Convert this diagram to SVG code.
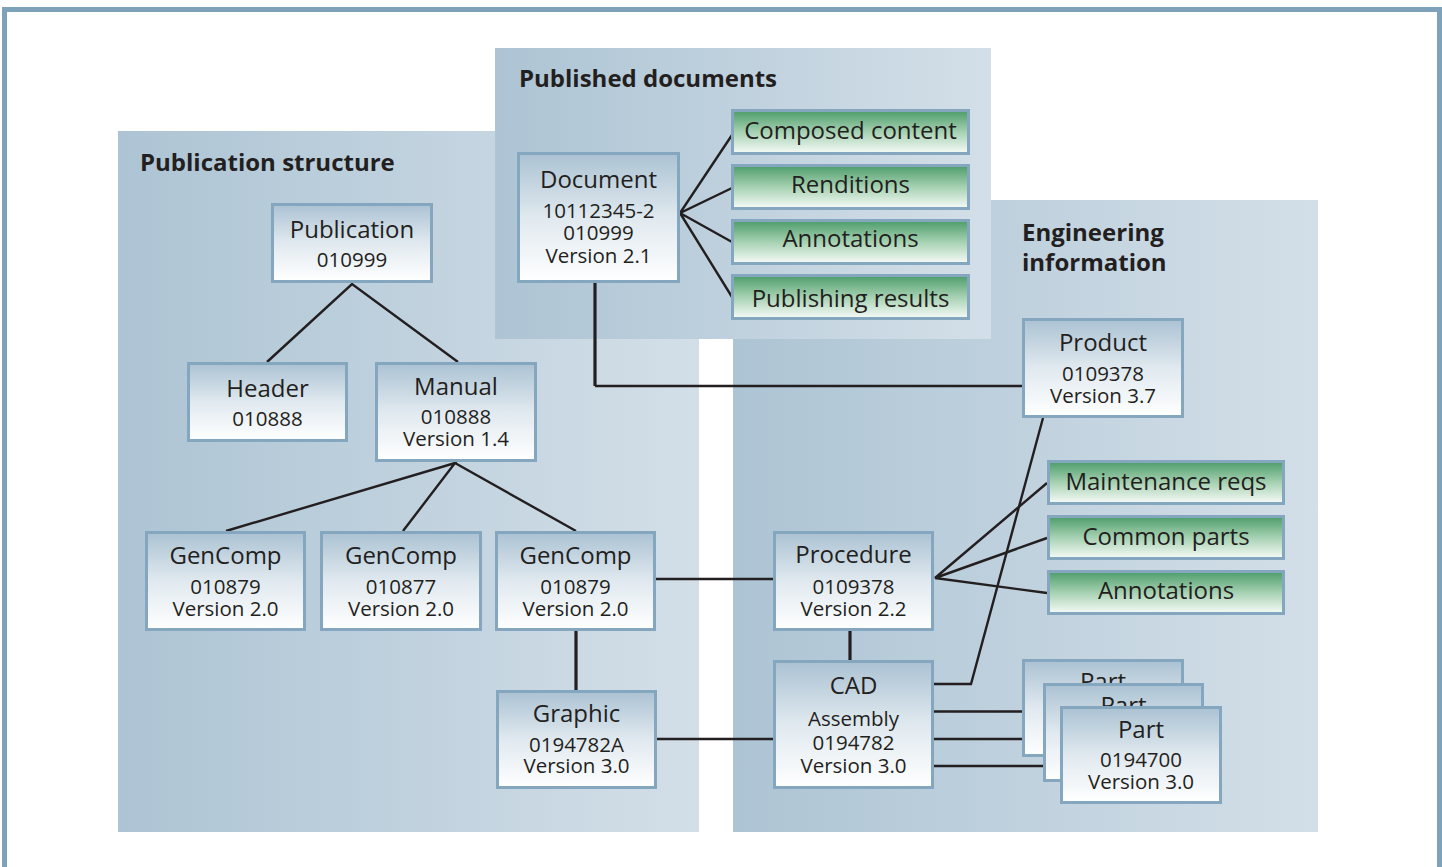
<svg xmlns="http://www.w3.org/2000/svg" width="1442" height="867" viewBox="0 0 1442 867">
<defs>
<linearGradient id="panel" x1="0" y1="0" x2="1" y2="0">
<stop offset="0" stop-color="#adc4d4"/>
<stop offset="1" stop-color="#d3dfe8"/>
</linearGradient>
<linearGradient id="node" x1="0" y1="0" x2="0" y2="1">
<stop offset="0" stop-color="#abc2d3"/>
<stop offset="0.5" stop-color="#e0e9ef"/>
<stop offset="1" stop-color="#ffffff"/>
</linearGradient>
<linearGradient id="green" x1="0" y1="0" x2="0" y2="1">
<stop offset="0" stop-color="#4c9c69"/>
<stop offset="0.5" stop-color="#a6d1b2"/>
<stop offset="1" stop-color="#f7fbf8"/>
</linearGradient>
<style>
.box{fill:url(#node);stroke:#84a6bf;stroke-width:3}
.gbox{fill:url(#green);stroke:#84a6bf;stroke-width:3}
.panel{fill:url(#panel)}
.t{font-family:"Open Sans","Noto Sans",sans-serif;font-size:24px;fill:#231f20;text-anchor:middle}
.s{font-family:"Open Sans","Noto Sans",sans-serif;font-size:20.5px;fill:#231f20;text-anchor:middle}
.h{font-family:"Open Sans","Noto Sans",sans-serif;font-size:24px;font-weight:bold;fill:#231f20}
.c{fill:none;stroke:#231f20;stroke-width:2.4}
.ct{fill:none;stroke:#231f20;stroke-width:3.2}
</style>
</defs>
<rect x="0" y="0" width="1442" height="867" fill="#ffffff"/>
<rect x="4.5" y="9.5" width="1435" height="880" fill="none" stroke="#7fa2bb" stroke-width="5"/>

<g id="panel-publication-structure">
<rect class="panel" x="118" y="131" width="581" height="701"/>
<text class="h" x="140" y="171">Publication structure</text>
</g>
<g id="panel-engineering-information">
<rect class="panel" x="733" y="200" width="585" height="632"/>
<text class="h" x="1022" y="241">Engineering</text>
<text class="h" x="1022" y="271">information</text>
</g>
<g id="panel-published-documents">
<rect class="panel" x="495" y="48" width="496" height="291"/>
<text class="h" x="519" y="87">Published documents</text>
</g>

<g id="connectors">
<path class="c" d="M267,362 L352,284 L458,362"/>
<path class="c" d="M226,531 L455,463 L403,531 M455,463 L576,531"/>
<path class="ct" d="M576,631 V690"/>
<path class="c" d="M656,579 H773"/>
<path class="c" d="M657,739 H773"/>
<path class="ct" d="M850,631 V660"/>
<path class="ct" d="M595,283 V386"/>
<path class="c" d="M595,386 H1022"/>
<path class="c" d="M732,135 L680,213 L732,188 M680,213 L732,242 M680,213 L732,297"/>
<path class="c" d="M1047,483 L935,578 L1047,538 M935,578 L1047,593"/>
<path class="c" d="M934,684 H971 L1043,418"/>
<path class="c" d="M934,711.5 H1043 M934,739 H1043 M934,766 H1061"/>
</g>

<g id="node-publication">
<rect class="box" x="272.5" y="204.5" width="159" height="77"/>
<text class="t" x="352" y="238">Publication</text>
<text class="s" x="352" y="267">010999</text>
</g>
<g id="node-header">
<rect class="box" x="188.5" y="363.5" width="158" height="77"/>
<text class="t" x="267.5" y="397">Header</text>
<text class="s" x="267.5" y="426">010888</text>
</g>
<g id="node-manual">
<rect class="box" x="376.5" y="363.5" width="159" height="97"/>
<text class="t" x="456" y="395">Manual</text>
<text class="s" x="456" y="424">010888</text>
<text class="s" x="456" y="446">Version 1.4</text>
</g>
<g id="node-gencomp1">
<rect class="box" x="146.5" y="532.5" width="158" height="97"/>
<text class="t" x="225.5" y="564">GenComp</text>
<text class="s" x="225.5" y="594">010879</text>
<text class="s" x="225.5" y="616">Version 2.0</text>
</g>
<g id="node-gencomp2">
<rect class="box" x="321.5" y="532.5" width="159" height="97"/>
<text class="t" x="401" y="564">GenComp</text>
<text class="s" x="401" y="594">010877</text>
<text class="s" x="401" y="616">Version 2.0</text>
</g>
<g id="node-gencomp3">
<rect class="box" x="496.5" y="532.5" width="158" height="97"/>
<text class="t" x="575.5" y="564">GenComp</text>
<text class="s" x="575.5" y="594">010879</text>
<text class="s" x="575.5" y="616">Version 2.0</text>
</g>
<g id="node-graphic">
<rect class="box" x="497.5" y="691.5" width="158" height="96"/>
<text class="t" x="576.5" y="722">Graphic</text>
<text class="s" x="576.5" y="752">0194782A</text>
<text class="s" x="576.5" y="773">Version 3.0</text>
</g>
<g id="node-document">
<rect class="box" x="518.5" y="153.5" width="160" height="128"/>
<text class="t" x="598.5" y="188">Document</text>
<text class="s" x="598.5" y="218">10112345-2</text>
<text class="s" x="598.5" y="240">010999</text>
<text class="s" x="598.5" y="263">Version 2.1</text>
</g>
<g id="node-composed-content">
<rect class="gbox" x="732.5" y="110.5" width="236" height="43"/>
<text class="t" x="850.5" y="139">Composed content</text>
</g>
<g id="node-renditions">
<rect class="gbox" x="732.5" y="165.5" width="236" height="43"/>
<text class="t" x="850.5" y="193">Renditions</text>
</g>
<g id="node-annotations-doc">
<rect class="gbox" x="732.5" y="220.5" width="236" height="43"/>
<text class="t" x="850.5" y="247">Annotations</text>
</g>
<g id="node-publishing-results">
<rect class="gbox" x="732.5" y="275.5" width="236" height="43"/>
<text class="t" x="850.5" y="307">Publishing results</text>
</g>
<g id="node-product">
<rect class="box" x="1023.5" y="319.5" width="159" height="97"/>
<text class="t" x="1103" y="351">Product</text>
<text class="s" x="1103" y="381">0109378</text>
<text class="s" x="1103" y="403">Version 3.7</text>
</g>
<g id="node-maintenance-reqs">
<rect class="gbox" x="1048.5" y="461.5" width="235" height="42"/>
<text class="t" x="1166" y="490">Maintenance reqs</text>
</g>
<g id="node-common-parts">
<rect class="gbox" x="1048.5" y="516.5" width="235" height="42"/>
<text class="t" x="1166" y="545">Common parts</text>
</g>
<g id="node-annotations-eng">
<rect class="gbox" x="1048.5" y="571.5" width="235" height="42"/>
<text class="t" x="1166" y="599">Annotations</text>
</g>
<g id="node-procedure">
<rect class="box" x="774.5" y="532.5" width="158" height="97"/>
<text class="t" x="853.5" y="563">Procedure</text>
<text class="s" x="853.5" y="594">0109378</text>
<text class="s" x="853.5" y="616">Version 2.2</text>
</g>
<g id="node-cad">
<rect class="box" x="774.5" y="661.5" width="158" height="126"/>
<text class="t" x="853.5" y="694">CAD</text>
<text class="s" x="853.5" y="726">Assembly</text>
<text class="s" x="853.5" y="750">0194782</text>
<text class="s" x="853.5" y="773">Version 3.0</text>
</g>
<g id="node-part-back">
<rect class="box" x="1023.5" y="660.5" width="159" height="95"/>
<text class="t" x="1103" y="690">Part</text>
</g>
<g id="node-part-middle">
<rect class="box" x="1044.5" y="684.5" width="158" height="96"/>
<text class="t" x="1123.5" y="714">Part</text>
</g>
<g id="node-part-front">
<rect class="box" x="1061.5" y="707.5" width="159" height="95"/>
<text class="t" x="1141" y="738">Part</text>
<text class="s" x="1141" y="767">0194700</text>
<text class="s" x="1141" y="789">Version 3.0</text>
</g>
</svg>
